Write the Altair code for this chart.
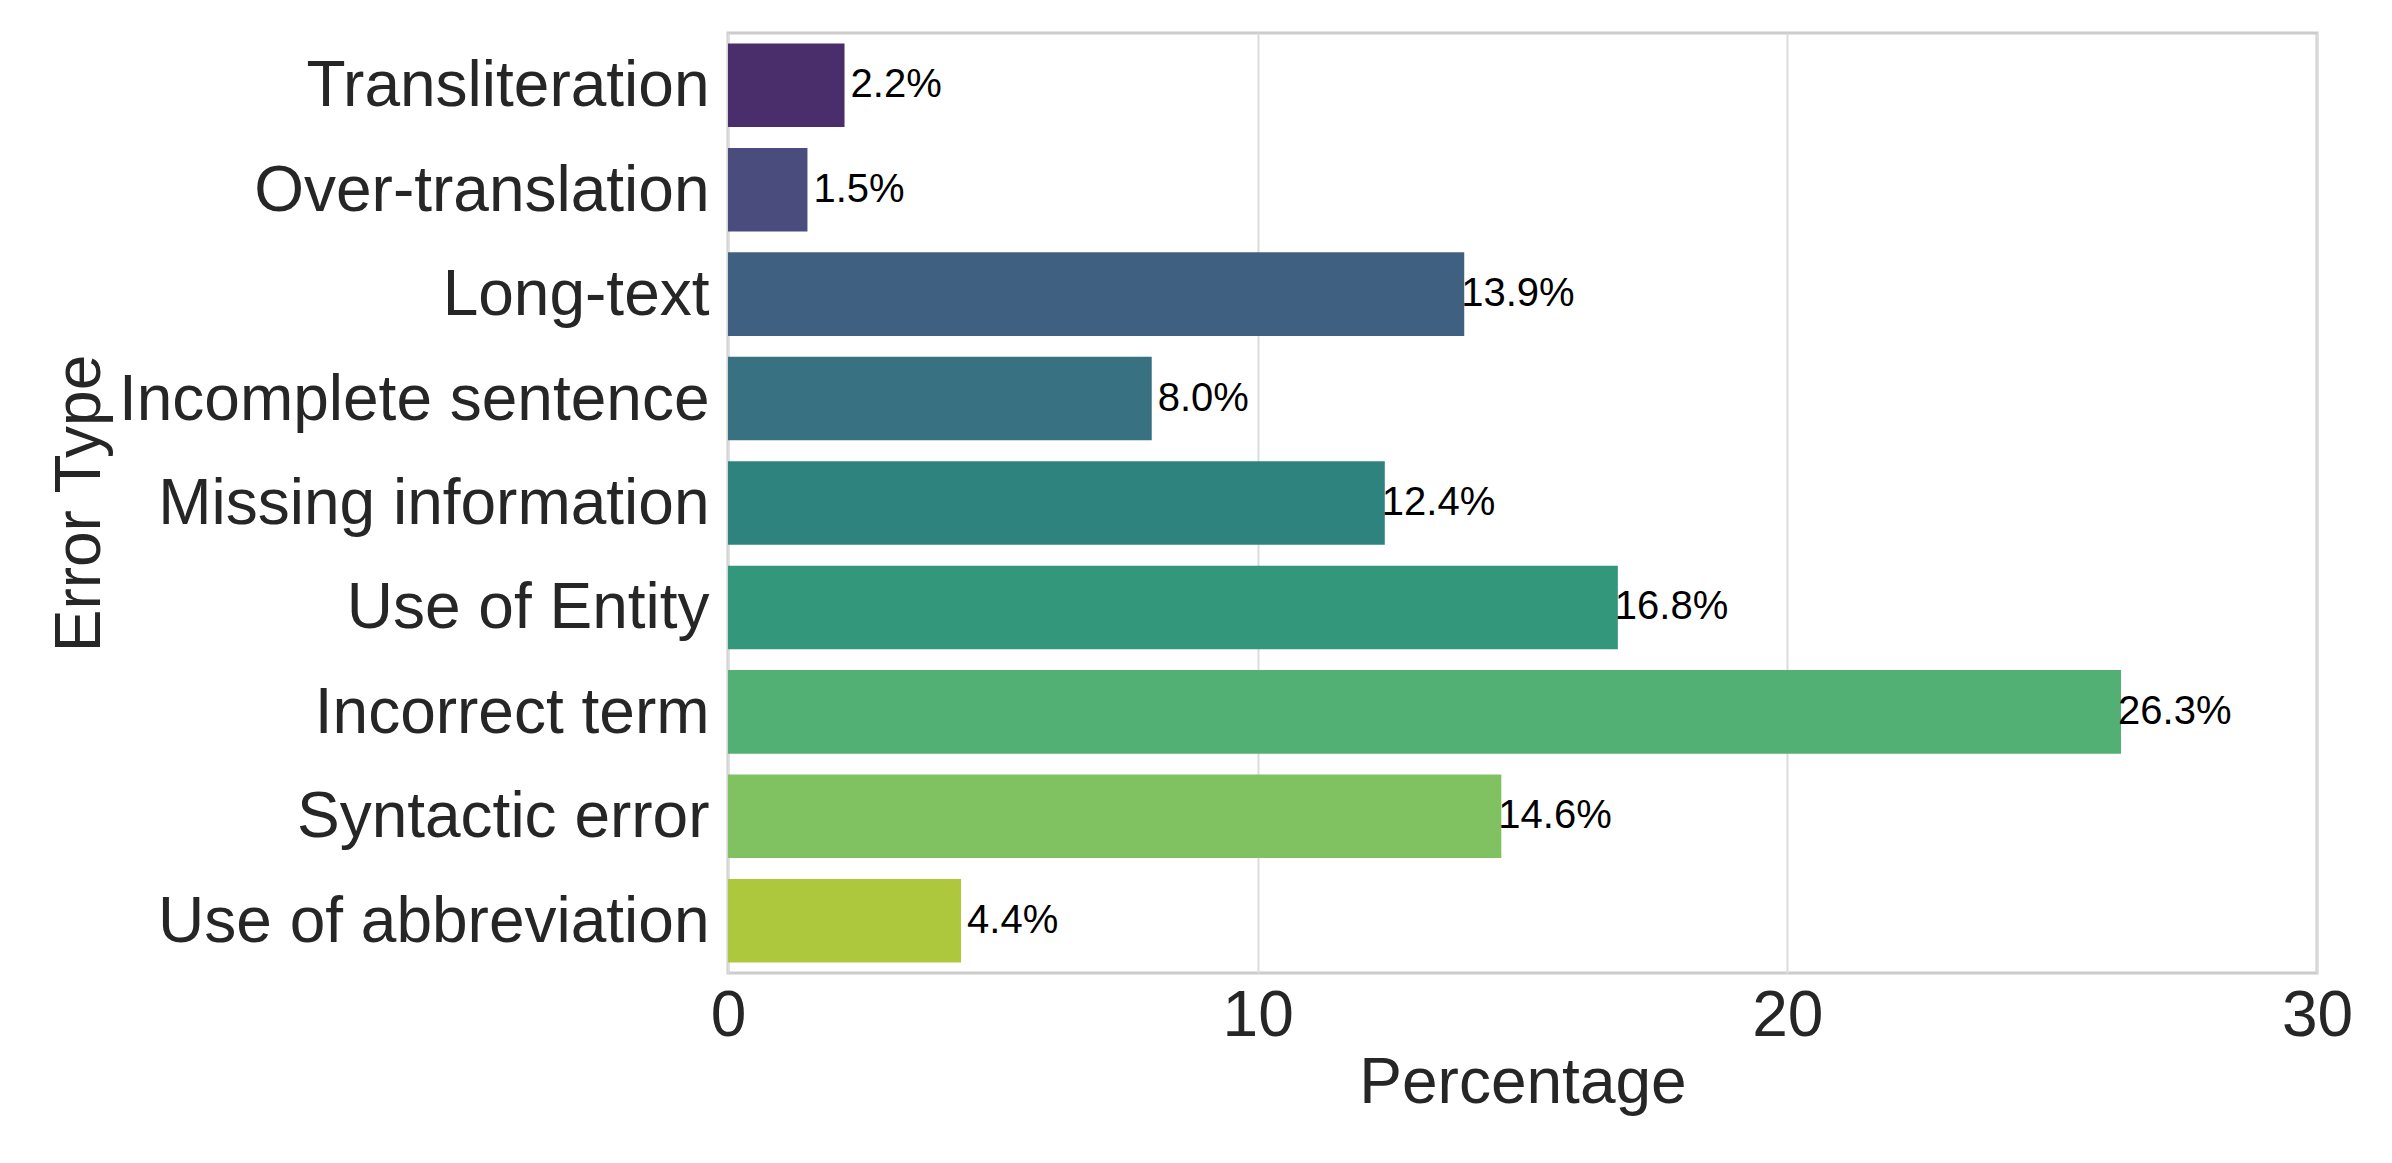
import colorsys
import altair as alt
import pandas as pd

categories = [
    "Transliteration",
    "Over-translation",
    "Long-text",
    "Incomplete sentence",
    "Missing information",
    "Use of Entity",
    "Incorrect term",
    "Syntactic error",
    "Use of abbreviation",
]
percentages = [2.2, 1.5, 13.9, 8.0, 12.4, 16.8, 26.3, 14.6, 4.4]
x_ticks = [0, 10, 20, 30]

# viridis palette (9 colours) as used by seaborn, then desaturated like seaborn barplot
viridis9 = ["#482475", "#414487", "#355f8d", "#2a788e", "#21918c",
            "#22a884", "#44bf70", "#7ad151", "#bddf26"]


def desaturate(hexc, prop=0.75):
    r, g, b = (int(hexc[i:i + 2], 16) / 255 for i in (1, 3, 5))
    h, l, s = colorsys.rgb_to_hls(r, g, b)
    r, g, b = colorsys.hls_to_rgb(h, l, s * prop)
    return "#%02x%02x%02x" % tuple(round(c * 255) for c in (r, g, b))


colors = [desaturate(c) for c in viridis9]

df = pd.DataFrame({
    "cat": categories,
    "pct": percentages,
    "label": [f"{v:.1f}%" for v in percentages],
})

FONT = "Liberation Sans"
TXT = "#262626"
FS = 64

base = alt.Chart(df)

x_enc = alt.X(
    "pct:Q",
    scale=alt.Scale(domain=[0, 30], nice=False, zero=True),
    axis=alt.Axis(
        values=x_ticks, title="Percentage", format="d",
        labelFont=FONT, labelFontSize=FS, labelColor=TXT,
        labelBaseline="alphabetic", labelPadding=62, labelFlush=False,
        ticks=False, tickSize=0, domain=False,
        grid=True, gridColor="#dcdcdc", gridWidth=2,
        titleFont=FONT, titleFontSize=FS, titleColor=TXT,
        titleFontWeight="normal", titleBaseline="alphabetic", titleY=129,
    ),
)
y_enc = alt.Y(
    "cat:N",
    sort=categories,
    scale=alt.Scale(paddingInner=0.2, paddingOuter=0.1),
    axis=alt.Axis(
        title="Error Type",
        labelFont=FONT, labelFontSize=FS, labelColor=TXT,
        labelPadding=19, labelLimit=2000, labelOffset=2,
        ticks=False, tickSize=0, domain=False, grid=False,
        titleFont=FONT, titleFontSize=FS, titleColor=TXT,
        titleFontWeight="normal", titleAngle=270,
        titleX=-629, titleY=470, titleAlign="center",
        titleBaseline="alphabetic",
    ),
)

bars = base.mark_bar().encode(
    x=x_enc,
    y=y_enc,
    color=alt.Color("cat:N", scale=alt.Scale(domain=categories, range=colors), legend=None),
)

labels_big = base.transform_filter("datum.pct >= 10").mark_text(
    align="left", baseline="middle", font=FONT, fontSize=40, color="black", dx=-3
).encode(x="pct:Q", y=alt.Y("cat:N", sort=categories), text="label:N")

labels_small = base.transform_filter("datum.pct < 10").mark_text(
    align="left", baseline="middle", font=FONT, fontSize=40, color="black", dx=6
).encode(x="pct:Q", y=alt.Y("cat:N", sort=categories), text="label:N")

chart = (
    alt.layer(bars, labels_big, labels_small)
    .properties(
        width=1589,
        height=940,
        autosize=alt.AutoSizeParams(type="none"),
        padding={"left": 720, "top": 25, "right": 67, "bottom": 182},
        background="white",
    )
    .configure_view(stroke="#cccccc", strokeWidth=3)
)

chart.save("out.html", embed_options={"renderer": "svg", "actions": False})
